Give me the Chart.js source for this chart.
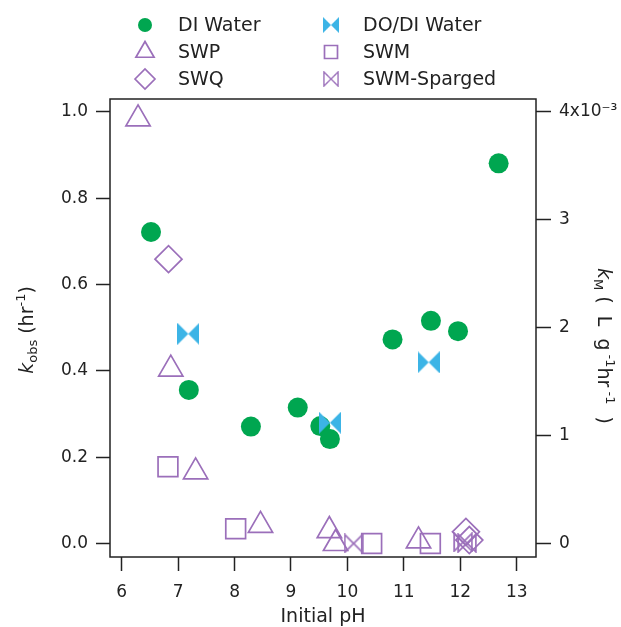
<!DOCTYPE html>
<html>
<head>
<meta charset="utf-8">
<script src="https://cdn.jsdelivr.net/npm/chart.js@4/dist/chart.umd.min.js"></script>
<style>
  html, body { margin: 0; padding: 0; background: #fff; }
  canvas { display: block; }
</style>
</head>
<body>
<canvas id="chart" width="621" height="627" style="width:621px;height:627px"></canvas>
<script>
// data (pH, k_obs in hr^-1)
const diWaterPH = [6.52, 7.19, 8.29, 9.12, 9.52, 9.69, 10.80, 11.48, 11.96, 12.68];
const diWaterK  = [0.722, 0.356, 0.271, 0.315, 0.272, 0.242, 0.473, 0.516, 0.492, 0.881];

const doDiPH = [7.18, 9.69, 11.44];
const doDiK  = [0.486, 0.280, 0.420];

const swpPH = [6.29, 6.87, 7.31, 8.46, 9.68, 9.79, 11.26];
const swpK  = [0.984, 0.404, 0.166, 0.042, 0.030, 0.000, 0.006];

const swmPH = [6.82, 8.02, 10.43, 11.47];
const swmK  = [0.178, 0.034, 0.000, 0.000];

const swqPH = [6.83, 12.10, 12.16];
const swqK  = [0.659, 0.027, 0.008];

const spargedPH = [10.11, 12.05, 12.12];
const spargedK  = [0.000, 0.003, 0.001];

// axis ticks
const xTicks = [6, 7, 8, 9, 10, 11, 12, 13];
const yTicks = [0, 0.2, 0.4, 0.6, 0.8, 1.0];
const yTickLabels = ["0.0", "0.2", "0.4", "0.6", "0.8", "1.0"];
const y2Ticks = [0, 1, 2, 3, 4];
const y2TickLabels = ["0", "1", "2", "3", "4x10\u207B\u00B3"];

const GREEN = "#00a650";
const BLUE = "#3cb4e6";
const PURPLE = "#9b6fba";
const INK = "#222";
const FONT = "'DejaVu Sans', sans-serif";

function toXY(xs, ys) {
  return xs.map((x, i) => ({ x: x, y: ys[i] }));
}

// bowtie marker (two triangles meeting in the middle)
function bowtie(w, h, fill, stroke, lw) {
  const c = document.createElement("canvas");
  c.width = w; c.height = h;
  const g = c.getContext("2d");
  const p = lw ? lw / 2 + 0.3 : 0;
  g.beginPath();
  g.moveTo(p, p);
  g.lineTo(w / 2, h / 2);
  g.lineTo(w - p, p);
  g.lineTo(w - p, h - p);
  g.lineTo(w / 2, h / 2);
  g.lineTo(p, h - p);
  g.closePath();
  if (fill) { g.fillStyle = fill; g.fill(); }
  if (stroke) { g.strokeStyle = stroke; g.lineWidth = lw; g.lineJoin = "miter"; g.stroke(); }
  return c;
}

const bowFilled = bowtie(22, 22, BLUE, null, 0);
const bowOpen = bowtie(20, 20, null, PURPLE, 1.7);

// legend slots: [markerX, textX, y]
const legendSlots = [[145, 178, 25], [331, 363, 25], [145, 178, 52], [331, 363, 52], [145, 178, 79], [331, 363, 79]];

function legendMarker(ctx, ds, x, y) {
  ctx.save();
  ctx.lineWidth = 1.7;
  ctx.strokeStyle = ds.borderColor;
  ctx.fillStyle = ds.backgroundColor;
  const s = ds.pointStyle;
  ctx.beginPath();
  if (s === "circle") {
    ctx.arc(x, y, 7, 0, Math.PI * 2);
    ctx.fill();
  } else if (s === "triangle") {
    const r = 10.5;
    ctx.moveTo(x, y - r);
    ctx.lineTo(x + r * 0.866, y + r / 2);
    ctx.lineTo(x - r * 0.866, y + r / 2);
    ctx.closePath();
    ctx.stroke();
  } else if (s === "rect") {
    ctx.rect(x - 6.5, y - 6.5, 13, 13);
    ctx.stroke();
  } else if (s === "rectRot") {
    ctx.moveTo(x - 10, y); ctx.lineTo(x, y - 10); ctx.lineTo(x + 10, y); ctx.lineTo(x, y + 10);
    ctx.closePath();
    ctx.stroke();
  } else {
    ctx.drawImage(s, x - 8, y - 8, 16, 16);
  }
  ctx.restore();
}

// text with italic / sub / superscript pieces
function drawRich(ctx, parts, cx, cy, angle) {
  ctx.save();
  ctx.translate(cx, cy);
  ctx.rotate(angle);
  let total = 0;
  parts.forEach(p => { ctx.font = p.f; total += ctx.measureText(p.t).width; });
  let x = -total / 2;
  ctx.fillStyle = INK;
  ctx.textBaseline = "alphabetic";
  ctx.textAlign = "left";
  parts.forEach(p => {
    ctx.font = p.f;
    ctx.fillText(p.t, x, p.dy || 0);
    x += ctx.measureText(p.t).width;
  });
  ctx.restore();
}

const big = "19px " + FONT;
const bigIt = "italic 19px " + FONT;
const small = "13px " + FONT;

const decor = {
  id: "decor",
  beforeDatasetsDraw(chart) {
    const { ctx, chartArea: a } = chart;
    ctx.save();
    ctx.strokeStyle = INK;
    ctx.lineWidth = 1.5;
    ctx.strokeRect(a.left, a.top, a.right - a.left, a.bottom - a.top);
    ctx.restore();
  },
  afterDraw(chart) {
    const ctx = chart.ctx;
    // legend
    chart.data.datasets.forEach((ds, i) => {
      const [mx, tx, y] = legendSlots[i];
      legendMarker(ctx, ds, mx, y);
      ctx.save();
      ctx.font = big;
      ctx.fillStyle = INK;
      ctx.textBaseline = "middle";
      ctx.fillText(ds.label, tx, y + 1);
      ctx.restore();
    });
    // axis titles
    drawRich(ctx, [{ t: "Initial pH", f: big }], 323, 622, 0);
    drawRich(ctx, [
      { t: "k", f: bigIt },
      { t: "obs", f: small, dy: 4 },
      { t: " (hr", f: big },
      { t: "-1", f: small, dy: -8 },
      { t: ")", f: big }
    ], 33, 330, -Math.PI / 2);
    drawRich(ctx, [
      { t: "k", f: bigIt },
      { t: "M", f: small, dy: 4 },
      { t: " (  L  g", f: big },
      { t: " -1", f: small, dy: -8 },
      { t: "hr", f: big },
      { t: " -1", f: small, dy: -8 },
      { t: "  )", f: big }
    ], 598, 346, Math.PI / 2);
  }
};

const tickFont = { family: FONT, size: 17 };

new Chart(document.getElementById("chart"), {
  type: "scatter",
  data: {
    datasets: [
      { label: "DI Water", data: toXY(diWaterPH, diWaterK), pointStyle: "circle", pointRadius: 10,
        backgroundColor: GREEN, borderColor: GREEN, borderWidth: 0, order: 1 },
      { label: "DO/DI Water", data: toXY(doDiPH, doDiK), pointStyle: bowFilled, pointRadius: 11,
        backgroundColor: BLUE, borderColor: BLUE, order: 0 },
      { label: "SWP", data: toXY(swpPH, swpK), pointStyle: "triangle", pointRadius: 14,
        backgroundColor: "rgba(0,0,0,0)", borderColor: PURPLE, borderWidth: 1.7, order: 2 },
      { label: "SWM", data: toXY(swmPH, swmK), pointStyle: "rect", pointRadius: 14,
        backgroundColor: "rgba(0,0,0,0)", borderColor: PURPLE, borderWidth: 1.7, order: 2 },
      { label: "SWQ", data: toXY(swqPH, swqK), pointStyle: "rectRot", pointRadius: 13.5,
        backgroundColor: "rgba(0,0,0,0)", borderColor: PURPLE, borderWidth: 1.7, order: 2 },
      { label: "SWM-Sparged", data: toXY(spargedPH, spargedK), pointStyle: bowOpen, pointRadius: 10,
        backgroundColor: "rgba(0,0,0,0)", borderColor: PURPLE, order: 2 }
    ]
  },
  options: {
    responsive: false,
    animation: false,
    layout: { padding: { top: 99, left: 0, right: 0, bottom: 0 } },
    plugins: { legend: { display: false }, tooltip: { enabled: false } },
    scales: {
      x: {
        type: "linear", position: "bottom", min: 5.793, max: 13.342,
        afterFit(s) { s.height = 70; },
        afterBuildTicks(s) { s.ticks = xTicks.map(v => ({ value: v })); },
        grid: { drawOnChartArea: false, tickLength: 14, tickWidth: 1.5, tickColor: INK },
        border: { display: false },
        ticks: { font: tickFont, color: INK, padding: 11, maxRotation: 0, callback: (v, i) => String(xTicks[i]) }
      },
      y: {
        type: "linear", position: "left", min: -0.0313, max: 1.0301,
        afterFit(s) { s.width = 110; },
        afterBuildTicks(s) { s.ticks = yTicks.map(v => ({ value: v })); },
        grid: { drawOnChartArea: false, tickLength: 14, tickWidth: 1.5, tickColor: INK },
        border: { display: false },
        ticks: { font: tickFont, color: INK, padding: 8, callback: (v, i) => yTickLabels[i] }
      },
      y2: {
        type: "linear", position: "right", min: -0.125, max: 4.12,
        afterFit(s) { s.width = 85; },
        afterBuildTicks(s) { s.ticks = y2Ticks.map(v => ({ value: v })); },
        grid: { drawOnChartArea: false, tickLength: 15, tickWidth: 1.5, tickColor: INK },
        border: { display: false },
        ticks: { font: tickFont, color: INK, padding: 8, callback: (v, i) => y2TickLabels[i] }
      }
    }
  },
  plugins: [decor]
});
</script>
</body>
</html>
